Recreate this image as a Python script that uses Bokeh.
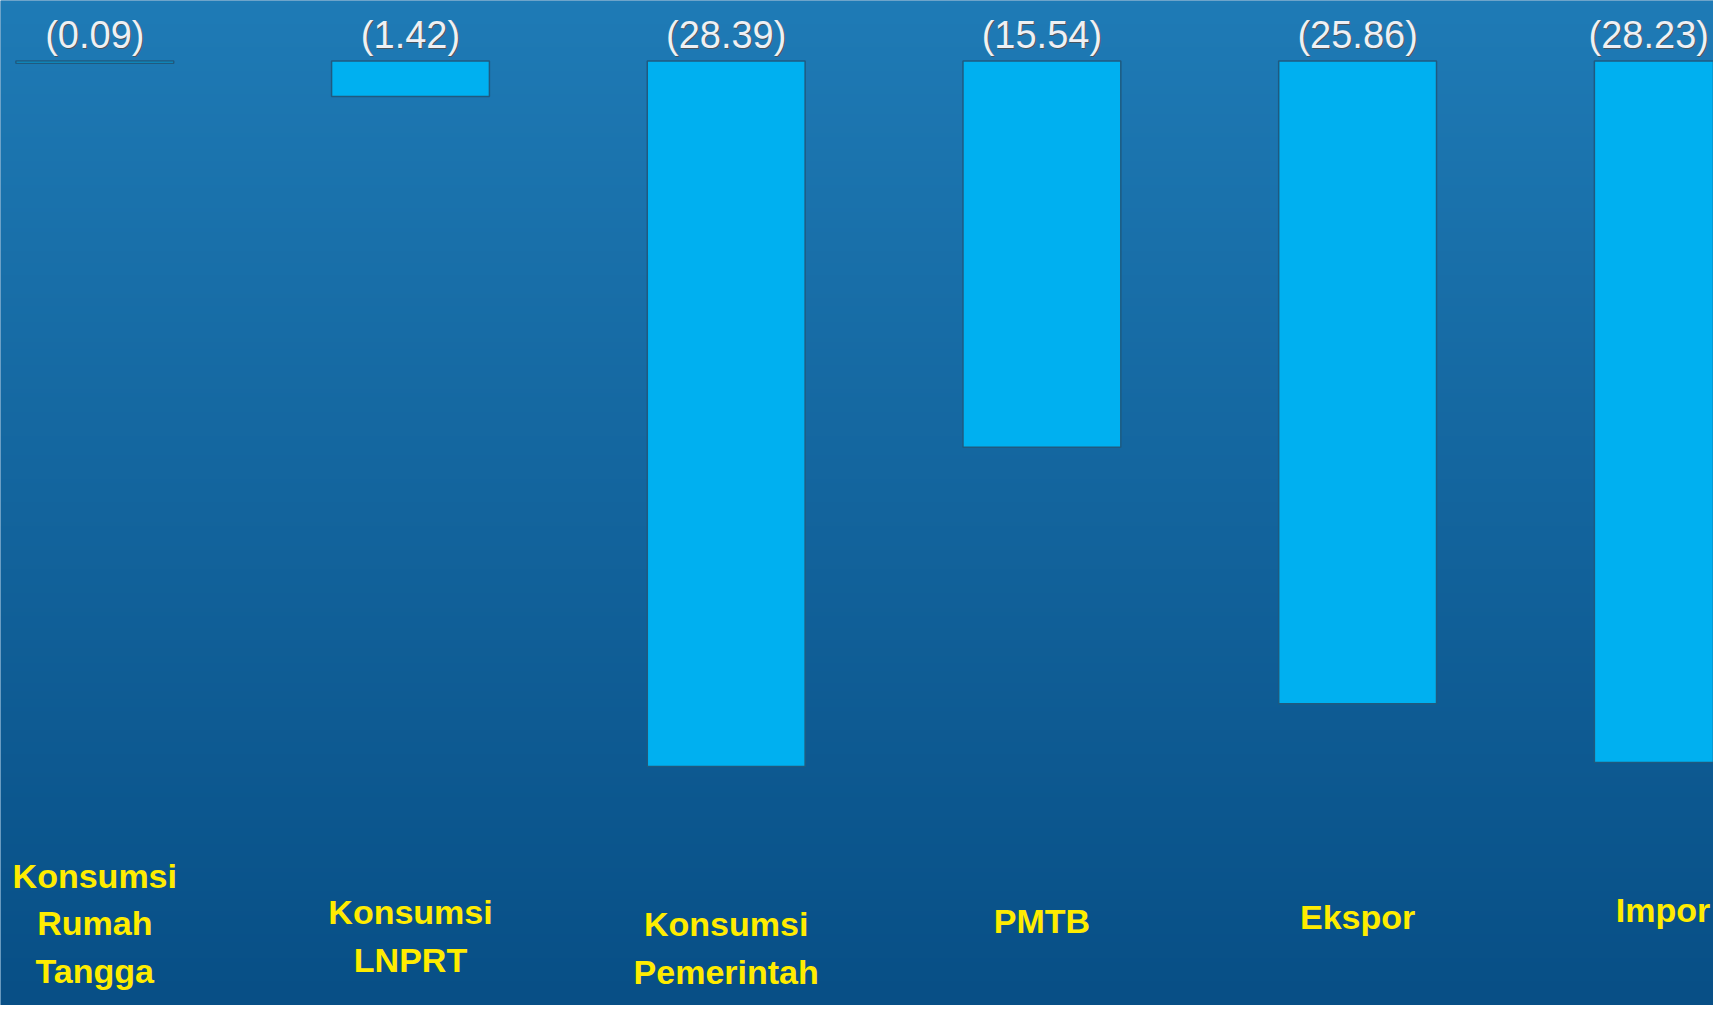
import numpy as np
from bokeh.plotting import figure
from bokeh.models import ColumnDataSource, Range1d
from bokeh.core.properties import value
from bokeh.embed import file_html
from bokeh.resources import INLINE

# ---- data ----
categories = ["Konsumsi\nRumah\nTangga", "Konsumsi\nLNPRT", "Konsumsi\nPemerintah", "PMTB", "Ekspor", "Impor"]
values = [-0.09, -1.42, -28.39, -15.54, -25.86, -28.23]
value_labels = ["(0.09)", "(1.42)", "(28.39)", "(15.54)", "(25.86)", "(28.23)"]
label_y = [-34.7, -35.21, -35.70, -34.62, -34.44, -34.17]

# ---- layout ----
W, H = 1713, 1005
px_per_cat = 315.7
px_per_unit = 24.85
x0 = -94.3 / px_per_cat
x1 = x0 + W / px_per_cat
ytop = 60.6 / px_per_unit
ybot = ytop - H / px_per_unit

p = figure(width=W, height=H, x_range=Range1d(x0, x1), y_range=Range1d(ybot, ytop),
           output_backend="svg", toolbar_location=None, min_border=0)
p.axis.visible = False
p.grid.visible = False
p.outline_line_color = None
p.background_fill_color = "#1567a3"
p.border_fill_color = "#1567a3"

# background gradient (top light blue -> bottom darker blue)
N = 256
top = np.array([31, 123, 182])
bot = np.array([8, 79, 134])
img = np.empty((N, 1), dtype=np.uint32)
view = img.view(dtype=np.uint8).reshape((N, 1, 4))
for i in range(N):
    t = i / (N - 1)  # 0 bottom, 1 top
    c = bot + (top - bot) * t
    view[i, 0, 0] = int(c[0]); view[i, 0, 1] = int(c[1]); view[i, 0, 2] = int(c[2]); view[i, 0, 3] = 255
p.image_rgba(image=[img], x=x0, y=ybot, dw=x1 - x0, dh=ytop - ybot)

xs = list(range(len(values)))
# keep labels inside the plot frame
lab_x = [min(x, x1 - 0.205) for x in xs]
cat_x = [max(min(x, x1 - 0.16), x0 + 0.27) for x in xs]
src = ColumnDataSource(dict(x=xs, lx=lab_x, cx=cat_x, top=[0] * len(values), bottom=values,
                            vlab=value_labels, cat=categories, ly=label_y))

p.vbar(x="x", top="top", bottom="bottom", width=0.5, source=src,
       fill_color="#00b0f0", line_color="#1f5a80", line_width=1.5)

# value label shadow + text
p.text(x="lx", y="top", text="vlab", source=src, text_align="center", text_baseline="bottom",
       text_font=value("Liberation Sans"), text_font_size="38px", text_color="#4a5560",
       x_offset=1, y_offset=-4)
p.text(x="lx", y="top", text="vlab", source=src, text_align="center", text_baseline="bottom",
       text_font=value("Liberation Sans"), text_font_size="38px", text_color="#eef0f4",
       y_offset=-5)

# category labels
p.text(x="cx", y="ly", text="cat", source=src, text_align="center", text_baseline="middle",
       text_font=value("Liberation Sans"), text_font_style="bold",
       text_font_size="34px", text_color="#ffec00", text_line_height=1.26)

open("out.html", "w").write(file_html(p, INLINE))
